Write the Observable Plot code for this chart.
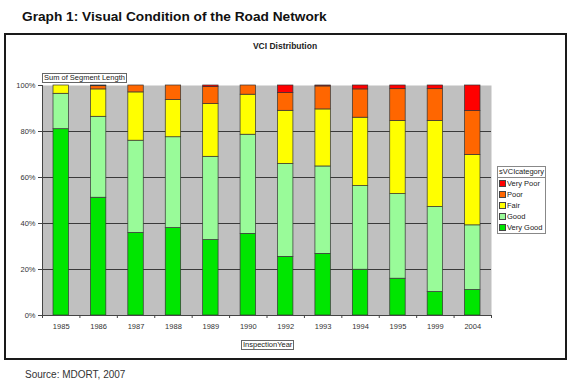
<!DOCTYPE html>
<html>
<head>
<meta charset="utf-8">
<script src="https://cdn.jsdelivr.net/npm/d3@7"></script>
<script src="https://cdn.jsdelivr.net/npm/@observablehq/plot@0.6"></script>
<style>
  html, body { margin: 0; padding: 0; background: #fff; }
  body { width: 575px; height: 383px; position: relative; overflow: hidden; font-family: "Liberation Sans", Arial, sans-serif; color: #222; }
  .abs { position: absolute; white-space: nowrap; }
  #title { left: 22px; top: 9px; font-size: 13.7px; font-weight: bold; color: #111; }
  #frame { left: 4px; top: 33px; width: 563px; height: 327px; box-sizing: border-box; border: 2px solid #1a1a1a; }
  #chartTitle { left: 0; width: 570px; top: 41px; text-align: center; font-size: 8.5px; font-weight: bold; color: #222; }
  #chart { left: 0; top: 0; }
  .fieldBox { border: 1px solid #666; background: #fff; font-size: 7.5px; line-height: 8px; padding: 0 1px; color: #222; }
  #yField { left: 42px; top: 73px; }
  #xField { left: 241px; top: 340px; }
  #legend { left: 497px; top: 166px; width: 49px; border: 1px solid #888; background: #fff; font-size: 7.5px; color: #222; box-sizing: border-box; }
  #legend .lt { border-bottom: 1px solid #888; padding: 1px 1px 1px 1px; line-height: 8px; }
  #legend .li { height: 11px; line-height: 11px; padding-left: 1px; display: flex; align-items: center; }
  #legend .sw { width: 5px; height: 5px; border: 1px solid #444; margin-right: 1px; flex: none; }
  #source { left: 25px; top: 369px; font-size: 10px; color: #333; }
</style>
</head>
<body>
<div id="title" class="abs">Graph 1: Visual Condition of the Road Network</div>
<div id="chart" class="abs"></div>
<div id="frame" class="abs"></div>
<div id="chartTitle" class="abs">VCI Distribution</div>
<div id="yField" class="abs fieldBox">Sum of Segment Length</div>
<div id="xField" class="abs fieldBox">InspectionYear</div>
<div id="legend" class="abs"></div>
<div id="source" class="abs">Source: MDORT, 2007</div>
<script>
// Inspection years (categories on x)
const years = [1985, 1986, 1987, 1988, 1989, 1990, 1992, 1993, 1994, 1995, 1999, 2004];
// Share of segment length per VCI category (%)
const veryGood = [81.0, 51.2, 35.9, 38.0, 32.8, 35.5, 25.5, 26.8, 19.9, 16.0, 10.2, 11.1];
const good     = [15.4, 35.2, 40.1, 39.5, 36.2, 43.1, 40.4, 38.0, 36.4, 36.8, 37.0, 28.1];
const fair     = [ 3.6, 11.9, 21.0, 16.2, 22.9, 17.4, 23.1, 24.8, 29.7, 31.8, 37.4, 30.6];
const poor     = [ 0.0,  1.4,  3.0,  6.3,  7.4,  4.0,  7.7, 10.0, 12.3, 13.8, 13.8, 19.1];
const veryPoor = [ 0.0,  0.3,  0.0,  0.0,  0.7,  0.0,  3.3,  0.4,  1.7,  1.6,  1.6, 11.1];
const categories = ["Very Good", "Good", "Fair", "Poor", "Very Poor"];
const categoryColors = ["#00e600", "#99fb99", "#ffff00", "#ff6600", "#ff0000"];
const yTicks = [0, 20, 40, 60, 80, 100];

const series = [veryGood, good, fair, poor, veryPoor];
const rows = [];
years.forEach((yr, i) => {
  categories.forEach((c, k) => rows.push({i, year: yr, category: c, value: series[k][i]}));
});

const chart = Plot.plot({
  width: 575,
  height: 383,
  marginLeft: 42,
  marginRight: 84,
  marginTop: 85,
  marginBottom: 68,
  style: {background: "transparent", fontFamily: "'Liberation Sans', Arial, sans-serif", fontSize: "7.5px", color: "#333"},
  x: {domain: [0, years.length], axis: null},
  y: {domain: [0, 100], axis: null},
  color: {domain: categories, range: categoryColors},
  marks: [
    Plot.frame({fill: "#c0c0c0", stroke: null}),
    Plot.gridY(yTicks.filter(d => d > 0 && d < 100), {stroke: "#3a3a3a", strokeOpacity: 1, strokeWidth: 1}),
    Plot.rectY(rows, Plot.stackY({
      x1: "i", x2: d => d.i + 1, y: "value", fill: "category",
      order: categories, insetLeft: 11, insetRight: 11,
      stroke: "#333", strokeWidth: 0.7
    })),
    Plot.ruleX([0], {stroke: "#444"}),
    Plot.ruleY([0], {stroke: "#444"}),
    Plot.axisY({ticks: yTicks, tickFormat: d => d + "%", tickSize: 4, tickPadding: 3, stroke: "#444", fill: "#333", label: null}),
    Plot.axisX({ticks: years.map((_, i) => i + 0.5), tickFormat: d => String(years[Math.floor(d)]), tickSize: 0, tickPadding: 8, fill: "#333", label: null}),
    Plot.axisX({ticks: d3.range(years.length + 1), tickFormat: () => "", tickSize: 3, stroke: "#444", label: null})
  ]
});
document.getElementById("chart").appendChild(chart);

// Legend (top to bottom: Very Poor ... Very Good)
const legend = document.getElementById("legend");
const lt = document.createElement("div");
lt.className = "lt";
lt.textContent = "sVCIcategory";
legend.appendChild(lt);
categories.slice().reverse().forEach(c => {
  const it = document.createElement("div");
  it.className = "li";
  const sw = document.createElement("span");
  sw.className = "sw";
  sw.style.background = categoryColors[categories.indexOf(c)];
  const tx = document.createElement("span");
  tx.textContent = c;
  it.appendChild(sw);
  it.appendChild(tx);
  legend.appendChild(it);
});
</script>
</body>
</html>
